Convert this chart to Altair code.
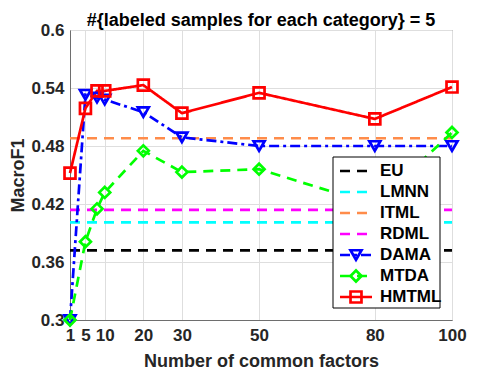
import altair as alt
import pandas as pd

# ---- data ----
x_vals = [1, 5, 8, 10, 20, 30, 50, 80, 100]
dama = [0.300, 0.533, 0.530, 0.528, 0.515, 0.489, 0.480, 0.480, 0.480]
mtda = [0.300, 0.381, 0.415, 0.432, 0.475, 0.453, 0.456, 0.419, 0.494]
hmtml = [0.452, 0.519, 0.537, 0.537, 0.543, 0.514, 0.535, 0.508, 0.541]

baseline_x = [1, 100]
eu = 0.372
lmnn = 0.401
itml = 0.488
rdml = 0.414

series = ["EU", "LMNN", "ITML", "RDML", "DAMA", "MTDA", "HMTML"]
colors = ["#000000", "#00ffff", "#ff8c4a", "#ff00ff", "#0000ff", "#00ff00", "#ff0000"]
dashes = [[10, 7], [10, 7], [10, 7], [10, 7], [10, 4, 3, 4], [10, 7], [1, 0]]
marker_series = ["DAMA", "MTDA", "HMTML"]
marker_shapes = ["triangle-down", "diamond", "square"]

x_ticks = [1, 5, 10, 20, 30, 50, 80, 100]
y_ticks = [0.3, 0.36, 0.42, 0.48, 0.54, 0.6]

# ---- long table ----
rows = []
for name, v in [("EU", eu), ("LMNN", lmnn), ("ITML", itml), ("RDML", rdml)]:
    for xv in baseline_x:
        rows.append({"series": name, "x": xv, "y": v})
for name, vals in [("DAMA", dama), ("MTDA", mtda), ("HMTML", hmtml)]:
    for xv, yv in zip(x_vals, vals):
        rows.append({"series": name, "x": xv, "y": yv})
df = pd.DataFrame(rows)

FONT = "Liberation Sans"
TXT = "#262626"

color_scale = alt.Scale(domain=series, range=colors)
dash_scale = alt.Scale(domain=series, range=dashes)
shape_scale = alt.Scale(domain=marker_series, range=marker_shapes)

x_enc = alt.X("x:Q", scale=alt.Scale(domain=[1, 100], nice=False, zero=False),
              axis=alt.Axis(values=x_ticks, title="Number of common factors",
                            labelFontSize=17, titleFontSize=18, labelPadding=7,
                            titlePadding=9, tickSize=0, labelFlush=False))
y_enc = alt.Y("y:Q", scale=alt.Scale(domain=[0.3, 0.6], nice=False, zero=False),
              axis=alt.Axis(values=y_ticks, title="MacroF1", format="~g",
                            labelFontSize=17, titleFontSize=18, labelPadding=6,
                            titlePadding=3, tickSize=0))

lines = alt.Chart(df).mark_line(strokeWidth=2.7).encode(
    x=x_enc, y=y_enc,
    color=alt.Color("series:N", scale=color_scale, legend=None),
    strokeDash=alt.StrokeDash("series:N", scale=dash_scale, legend=None),
    detail="series:N",
)

points = alt.Chart(df).transform_filter(
    alt.FieldOneOfPredicate(field="series", oneOf=marker_series)
).mark_point(filled=False, strokeWidth=2.7, size=120, opacity=1).encode(
    x="x:Q", y="y:Q",
    color=alt.Color("series:N", scale=color_scale, legend=None),
    shape=alt.Shape("series:N", scale=shape_scale, legend=None),
)

main = alt.layer(lines, points)

# ---- hand-built legend ----
leg_df = pd.DataFrame({"series": series})
ly = alt.Y("series:N", scale=alt.Scale(type="point", domain=series, range=[141, 267], padding=0),
           axis=None)

box = alt.Chart(pd.DataFrame({"a": [0]})).mark_rect(
    fill="white", stroke="#000000", strokeWidth=1
).encode(x=alt.value(263), x2=alt.value(370), y=alt.value(127), y2=alt.value(278))

leg_lines = alt.Chart(leg_df).mark_rule(strokeWidth=2.7).encode(
    x=alt.value(270), x2=alt.value(302), y=ly,
    color=alt.Color("series:N", scale=color_scale, legend=None),
    strokeDash=alt.StrokeDash("series:N", scale=dash_scale, legend=None),
)
leg_pts = alt.Chart(leg_df).transform_filter(
    alt.FieldOneOfPredicate(field="series", oneOf=marker_series)
).mark_point(filled=False, strokeWidth=2.7, size=120, opacity=1).encode(
    x=alt.value(286), y=ly,
    color=alt.Color("series:N", scale=color_scale, legend=None),
    shape=alt.Shape("series:N", scale=shape_scale, legend=None),
)
leg_text = alt.Chart(leg_df).mark_text(
    align="left", baseline="middle", fontSize=17, fontWeight="bold", font=FONT, color="#000000"
).encode(x=alt.value(310), y=ly, text="series:N")

legend = alt.layer(box, leg_lines, leg_pts, leg_text)

chart = alt.layer(main, legend).resolve_scale(y="independent").properties(
    width=382, height=290,
    padding={"left": 62, "top": 22, "right": 39, "bottom": 51},
    autosize=alt.AutoSizeParams(type="none"),
    title=alt.Title("#{labeled samples for each category} = 5", fontSize=18,
                    fontWeight="bold", font=FONT, color="#000000", offset=-9),
).configure_axis(
    labelFont=FONT, titleFont=FONT, labelFontWeight="bold", titleFontWeight="bold",
    labelColor=TXT, titleColor=TXT, domainColor="#6e6e6e", domainWidth=1,
    gridColor="#dedede", gridWidth=1,
).configure_view(stroke="#6e6e6e", strokeWidth=1)

chart.save("out.html", embed_options={"renderer": "svg", "actions": False})
